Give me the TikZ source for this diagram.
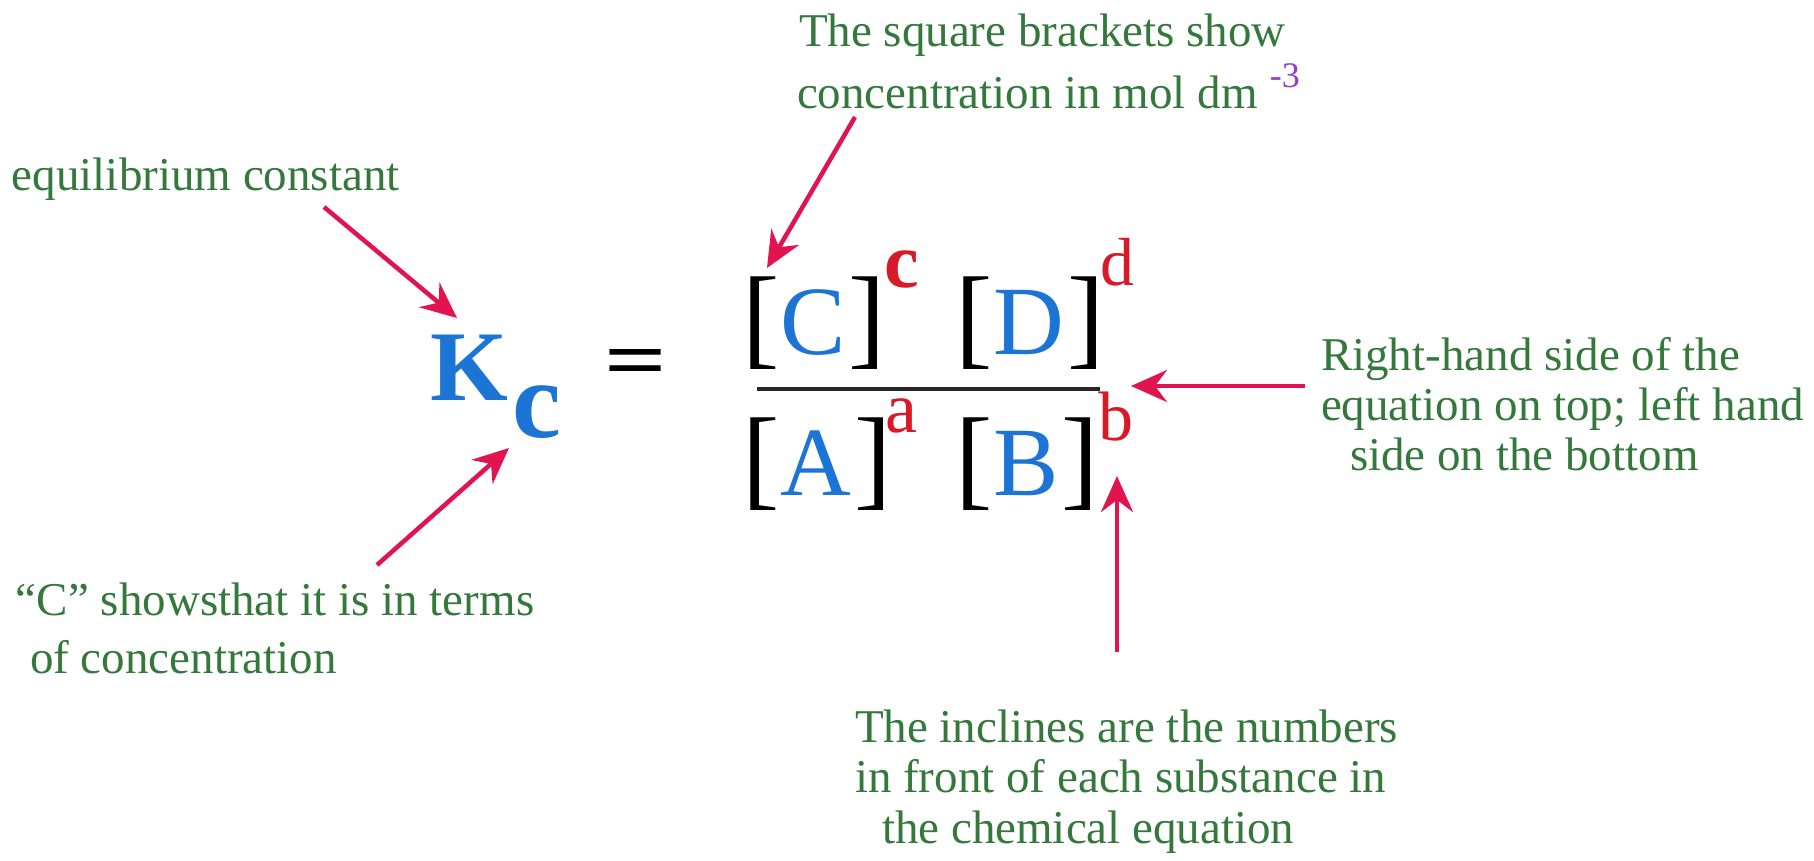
\documentclass[tikz,border=0pt]{standalone}
\usepackage{fontspec}
\setmainfont{Liberation Serif}
\usetikzlibrary{arrows.meta}
\definecolor{notegreen}{RGB}{52,120,60}
\definecolor{eqblue}{RGB}{28,117,212}
\definecolor{supred}{RGB}{215,25,40}
\definecolor{arrowred}{RGB}{225,20,80}
\definecolor{unitpurple}{RGB}{150,60,200}
\newcommand{\fsz}[1]{\fontsize{#1}{#1}\selectfont}
\newcommand{\bterm}[1]{{\fsz{112}[}\kern1pt{\color{eqblue}\fsz{98}#1}\kern3pt{\fsz{112}]}}
\begin{document}
\begin{tikzpicture}[x=1pt,y=-1pt,
  every node/.style={inner sep=0pt, outer sep=0pt, anchor=base west},
  note/.style={text=notegreen, font=\fsz{47}},
  supnum/.style={text=supred},
  arr/.style={draw=arrowred, line width=4.5pt, -{Stealth[length=36pt,width=32pt,inset=12pt]}}]
\useasboundingbox (0,0) rectangle (1814,861);
\fill[white] (0,0) rectangle (1814,861);

% annotations
\node[note] (eqc) at (12,190) {equilibrium constant};
\node[note] (cs1) at (16,615) {“C” showsthat it is in terms};
\node[note] (cs2) at (30,673) {of concentration};
\node[note] (sq1) at (799,47) {The square brackets show};
\node[note] (sq2) at (797,109) {concentration in mol dm\kern12pt{\color{unitpurple}\fsz{36}\raisebox{21pt}{-3}}};
\node[note] (rh1) at (1321,370) {Right-hand side of the};
\node[note] (rh2) at (1321,420) {equation on top; left hand};
\node[note] (rh3) at (1350,470) {side on the bottom};
\node[note] (in1) at (855,742) {The inclines are the numbers};
\node[note] (in2) at (855,792) {in front of each substance in};
\node[note] (in3) at (882,843) {the chemical equation};

% K_c =
\node[text=eqblue, font=\fsz{100}\bfseries] (K) at (430,400) {K};
\node[text=eqblue, font=\fsz{110}\bfseries] (Ksub) at (512,437) {c};
\node (eq) at (604,387) {\scalebox{1}[0.74]{\fsz{110}\bfseries =}};

% fraction
\node (C) at (742,354) {\bterm{C}};
\node (D) at (955,354) {\bterm{D}};
\node (A) at (742,495) {\bterm{A}};
\node (B) at (955,495) {\bterm{B}};
\node[supnum, font=\fsz{78}\bfseries] (sc) at (884,287) {c};
\node[supnum, font=\fsz{68}] (sd) at (1100,285) {d};
\node[supnum, font=\fsz{72}] (sa) at (885,432) {a};
\node[supnum, font=\fsz{70}] (sb) at (1098,440) {b};
\coordinate (fl1) at (757,389);
\coordinate (fl2) at (1100,389);
\draw[line width=4pt, black!85] (fl1) -- (fl2);

% arrows
\coordinate (a1s) at (324,207); \coordinate (a1e) at (457,318);
\coordinate (a2s) at (377,565); \coordinate (a2e) at (509,448);
\coordinate (a3s) at (855,117); \coordinate (a3e) at (767,268);
\coordinate (a4s) at (1305,386); \coordinate (a4e) at (1131,386);
\coordinate (a5s) at (1117,652); \coordinate (a5e) at (1117,476);
\draw[arr] (a1s) -- (a1e);
\draw[arr] (a2s) -- (a2e);
\draw[arr] (a3s) -- (a3e);
\draw[arr] (a4s) -- (a4e);
\draw[arr] (a5s) -- (a5e);
\end{tikzpicture}
\end{document}
